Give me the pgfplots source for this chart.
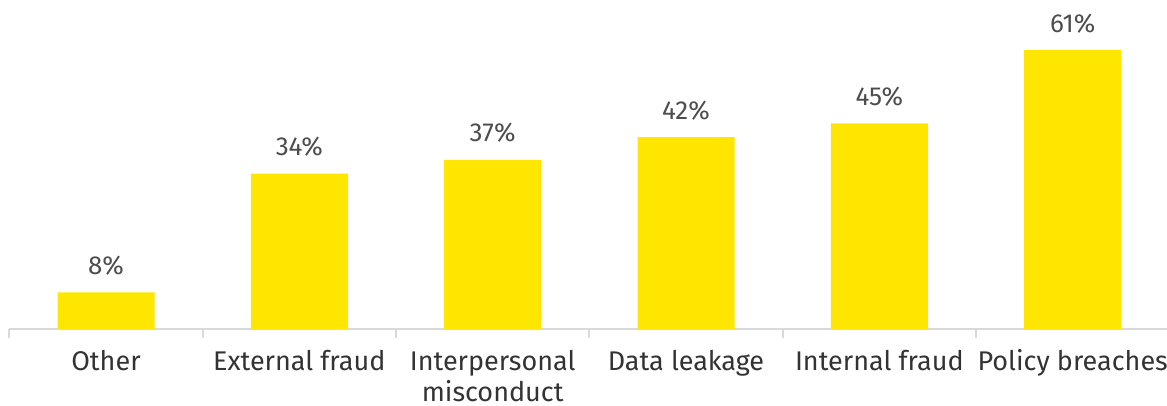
\documentclass[border=0pt]{standalone}
\usepackage{fontspec}
\setmainfont{Fira Sans}
\usepackage{pgfplots}
\pgfplotsset{compat=1.18}
\definecolor{eyyellow}{HTML}{FFE600}
\definecolor{axisgray}{HTML}{D9D9D9}
\definecolor{labeldark}{HTML}{333333}
\definecolor{valuegray}{HTML}{4D4D4D}
\begin{document}
\begin{tikzpicture}
\begin{axis}[
  at={(0,0)}, anchor=south west,
  scale only axis,
  width=580pt, height=160pt,
  xmin=-0.5, xmax=5.5,
  ymin=0, ymax=70,
  axis x line*=bottom,
  axis y line=none,
  x axis line style={draw=axisgray, line width=0.9pt},
  ybar, bar width=48.5pt,
  xtick={0,1,2,3,4,5},
  xticklabels={Other,External fraud,Interpersonal\\misconduct,Data leakage,Internal fraud,Policy breaches},
  major x tick style={draw=none},
  xticklabel style={font=\fontsize{13.5}{15.5}\selectfont, text=labeldark, align=center, yshift=-5pt, inner sep=1pt},
  extra x ticks={-0.5,0.5,1.5,2.5,3.5,4.5,5.5},
  extra x tick labels={},
  extra x tick style={major tick length=4.5pt, tick align=outside, major x tick style={draw=axisgray, line width=0.9pt}},
  /pgf/number format/assume math mode=true,
  nodes near coords={\pgfmathprintnumber{\pgfplotspointmeta}\%},
  every node near coord/.append style={font=\fontsize{13}{15}\selectfont, text=valuegray, yshift=5pt},
  clip=false,
]
\addplot[fill=eyyellow, draw=none] coordinates {(0,8) (1,34) (2,37) (3,42) (4,45) (5,61)};
\end{axis}
\pgfresetboundingbox
\path[use as bounding box] (-4.67pt,-38.5pt) rectangle (578.83pt,164.5pt);
\end{tikzpicture}
\end{document}
